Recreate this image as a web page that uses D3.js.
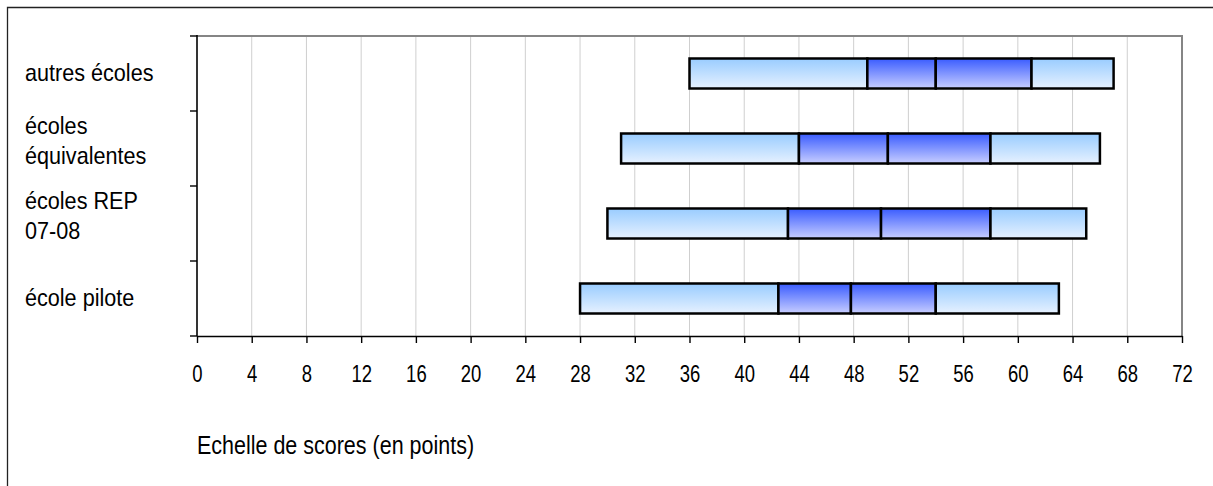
<!DOCTYPE html>
<html>
<head>
<meta charset="utf-8">
<script src="https://cdn.jsdelivr.net/npm/d3@7"></script>
<style>
  html, body { margin: 0; padding: 0; background: #fff; }
  svg { display: block; }
  text { font-family: "Liberation Sans", Arial, sans-serif; fill: #000; }
</style>
</head>
<body>
<svg id="chart" width="1213" height="486"></svg>
<script>
// ---- data ----
const categories = ["autres écoles", "écoles équivalentes", "écoles REP 07-08", "école pilote"];
const categoryLines = [["autres écoles"], ["écoles", "équivalentes"], ["écoles REP", "07-08"], ["école pilote"]];
const minScore = [36, 31, 30, 28];
const q1Score = [49, 44, 43.2, 42.5];
const medianScore = [54, 50.5, 50, 47.8];
const q3Score = [61, 58, 58, 54];
const maxScore = [67, 66, 65, 63];
const xTickValues = [0, 4, 8, 12, 16, 20, 24, 28, 32, 36, 40, 44, 48, 52, 56, 60, 64, 68, 72];
const axisTitle = "Echelle de scores (en points)";

// ---- layout ----
const W = 1213, H = 486;
const plot = { left: 197, right: 1182, top: 36, bottom: 336 };
const svg = d3.select("#chart");

const defs = svg.append("defs");
function grad(id, top, bottom) {
  const g = defs.append("linearGradient").attr("id", id)
    .attr("x1", 0).attr("y1", 0).attr("x2", 0).attr("y2", 1);
  g.append("stop").attr("offset", "0%").attr("stop-color", top);
  g.append("stop").attr("offset", "100%").attr("stop-color", bottom);
}
grad("gLight", "#99CCFF", "#E6F1FF");
grad("gDark", "#3A5CFF", "#C8CEFF");

// outer frame
svg.append("path").attr("d", `M7.5,${H} L7.5,7.5 L${W},7.5`)
  .attr("fill", "none").attr("stroke", "#222").attr("stroke-width", 1.3);

const x = d3.scaleLinear().domain([0, 72]).range([plot.left, plot.right]);
const y = d3.scaleBand().domain(categories).range([plot.top, plot.bottom])
  .paddingInner(0.6).paddingOuter(0.3);

// gridlines
svg.append("g").selectAll("line").data(xTickValues.filter(v => v > 0 && v < 72)).join("line")
  .attr("x1", d => x(d)).attr("x2", d => x(d))
  .attr("y1", plot.top).attr("y2", plot.bottom)
  .attr("stroke", "#cfcfcf").attr("stroke-width", 1);

// plot frame top/right (gray)
svg.append("path").attr("d", `M${plot.left},${plot.top} L${plot.right},${plot.top} L${plot.right},${plot.bottom}`)
  .attr("fill", "none").attr("stroke", "#858585").attr("stroke-width", 2);

// bars
const rows = categories.map((c, i) => ({ c, v: [minScore[i], q1Score[i], medianScore[i], q3Score[i], maxScore[i]] }));
const segFill = ["url(#gLight)", "url(#gDark)", "url(#gDark)", "url(#gLight)"];
const gBars = svg.append("g");
rows.forEach(r => {
  for (let k = 0; k < 4; k++) {
    gBars.append("rect")
      .attr("x", x(r.v[k])).attr("width", x(r.v[k + 1]) - x(r.v[k]))
      .attr("y", y(r.c)).attr("height", y.bandwidth())
      .attr("fill", segFill[k]).attr("stroke", "#000").attr("stroke-width", 2.5);
  }
});

// x axis
const xAxis = svg.append("g").attr("transform", `translate(0,${plot.bottom})`)
  .call(d3.axisBottom(x).tickValues(xTickValues).tickSize(7).tickSizeOuter(0).tickFormat(d3.format("d")));
xAxis.select(".domain").attr("stroke", "#000").attr("stroke-width", 1.6);
xAxis.selectAll(".tick line").attr("stroke", "#000").attr("stroke-width", 1.4);
xAxis.selectAll(".tick text").each(function () {
  const t = d3.select(this);
  t.attr("dy", null).attr("y", null)
   .attr("font-size", 24).attr("font-family", "Liberation Sans, Arial, sans-serif")
   .attr("text-anchor", "middle")
   .attr("transform", `translate(0,46) scale(0.77,1)`);
});

// y axis line and ticks at band boundaries
const yAxisG = svg.append("g");
yAxisG.append("line").attr("x1", plot.left).attr("x2", plot.left)
  .attr("y1", plot.top - 1).attr("y2", plot.bottom)
  .attr("stroke", "#000").attr("stroke-width", 1.6);
const boundaries = categories.map(c => y(c) - y.step() * y.paddingInner() / 2).concat([plot.bottom]);
yAxisG.selectAll("line.tk").data(boundaries).join("line").attr("class", "tk")
  .attr("x1", plot.left - 7).attr("x2", plot.left)
  .attr("y1", d => d).attr("y2", d => d)
  .attr("stroke", "#000").attr("stroke-width", 1.4);

// category labels
const lineGap = 30;
categoryLines.forEach((lines, i) => {
  const cy = y(categories[i]) + y.bandwidth() / 2;
  const offset = lines.length === 1 ? 0 : -6.5;
  lines.forEach((ln, j) => {
    const by = cy + offset + (j - (lines.length - 1) / 2) * lineGap + 7;
    svg.append("text").text(ln)
      .attr("font-size", 24)
      .attr("transform", `translate(25,${by}) scale(0.9,1)`);
  });
});

// axis title
svg.append("text").text(axisTitle)
  .attr("font-size", 25)
  .attr("transform", `translate(197,454) scale(0.86,1)`);
</script>
</body>
</html>
